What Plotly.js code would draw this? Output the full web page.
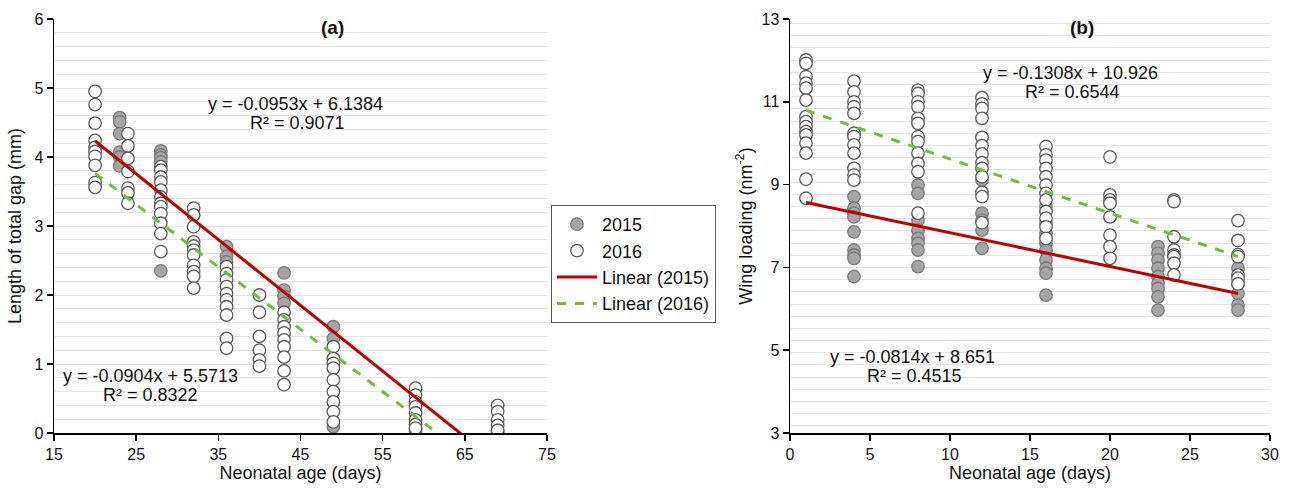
<!DOCTYPE html>
<html>
<head>
<meta charset="utf-8">
<script src="https://cdn.plot.ly/plotly-3.0.1.min.js"></script>
<style>
  html, body { margin: 0; padding: 0; background: #ffffff; }
  #chart { width: 1295px; height: 492px; }
</style>
</head>
<body>
<div id="chart"></div>
<script>
// ---------- Panel (a): length of total gap vs neonatal age ----------
const gapAges2015 = [23, 28, 36, 43, 49, 59, 69];
const gapVals2015 = [
  [4.57, 4.51, 4.34, 4.07, 4.00, 3.87],
  [4.09, 4.03, 3.99, 3.93, 2.35],
  [2.70, 2.56, 2.48],
  [2.32, 2.07, 1.98, 1.88],
  [1.54, 1.37, 0.09],
  [0.07, 0.03],
  [0.02]
];
const gapAges2016 = [20, 24, 28, 32, 36, 40, 43, 49, 59, 69];
const gapVals2016 = [
  [4.95, 4.76, 4.49, 4.24, 4.14, 4.08, 4.01, 3.88, 3.63, 3.56],
  [4.34, 4.16, 3.98, 3.79, 3.55, 3.48, 3.33],
  [3.86, 3.81, 3.71, 3.64, 3.52, 3.42, 3.33, 3.28, 3.18, 3.04, 2.89, 2.63],
  [3.26, 3.16, 2.99, 2.77, 2.71, 2.65, 2.58, 2.43, 2.34, 2.27, 2.10],
  [2.41, 2.31, 2.22, 2.12, 2.02, 1.93, 1.83, 1.71, 1.37, 1.23],
  [2.00, 1.75, 1.40, 1.20, 1.06, 0.97],
  [1.75, 1.64, 1.54, 1.45, 1.35, 1.25, 1.10, 0.90, 0.70],
  [1.25, 1.08, 1.01, 0.94, 0.77, 0.60, 0.45, 0.31, 0.16],
  [0.65, 0.55, 0.45, 0.38, 0.29, 0.19, 0.12, 0.07],
  [0.40, 0.31, 0.19, 0.11, 0.04]
];
// trendlines [2015, 2016]
const gapSlope = [-0.0953, -0.0904];
const gapIntercept = [6.1384, 5.5713];
const gapR2 = [0.9071, 0.8322];
const gapFitX = [20, 69];

// ---------- Panel (b): wing loading vs neonatal age ----------
const wingAges2015 = [4, 8, 12, 16, 23, 28];
const wingVals2015 = [
  [8.71, 8.43, 8.31, 8.22, 7.86, 7.42, 7.30, 7.22, 6.78],
  [8.99, 8.79, 8.14, 7.90, 7.70, 7.58, 7.42, 7.02],
  [9.11, 8.31, 8.14, 7.90, 7.46],
  [8.47, 8.07, 7.82, 7.58, 7.42, 7.18, 6.98, 6.86, 6.33],
  [7.50, 7.34, 7.18, 6.98, 6.78, 6.62, 6.49, 6.29, 5.97],
  [6.98, 6.62, 6.37, 6.09, 5.97]
];
const wingAges2016 = [1, 4, 8, 12, 16, 20, 24, 28];
const wingVals2016 = [
  [12.01, 11.93, 11.61, 11.45, 11.33, 11.04, 10.64, 10.52, 10.40, 10.28, 10.20, 10.00, 9.76, 9.13, 8.67],
  [11.50, 11.24, 11.00, 10.88, 10.72, 10.24, 10.16, 9.96, 9.76, 9.39, 9.23, 9.11],
  [11.28, 11.20, 11.00, 10.88, 10.60, 10.48, 10.16, 10.04, 9.76, 9.51, 9.31, 8.31],
  [11.10, 10.95, 10.84, 10.60, 10.14, 9.94, 9.74, 9.53, 9.39, 9.19, 8.81, 8.71, 8.08],
  [9.92, 9.72, 9.59, 9.39, 9.19, 8.99, 8.79, 8.63, 8.35, 8.19, 7.98, 7.70],
  [9.67, 8.75, 8.63, 8.55, 8.22, 7.78, 7.50, 7.22],
  [8.63, 8.59, 7.74, 7.42, 7.30, 7.26, 7.10, 6.82],
  [8.13, 7.65, 7.31, 7.26, 6.82, 6.74, 6.60]
];
const wingSlope = [-0.0814, -0.1308];
const wingIntercept = [8.651, 10.926];
const wingR2 = [0.4515, 0.6544];
const wingFitX = [1, 28];

const seriesNames = ['2015', '2016', 'Linear (2015)', 'Linear (2016)'];

// ---------- helpers ----------
function flatten(ages, vals) {
  const x = [], y = [];
  ages.forEach((a, i) => vals[i].forEach(v => { x.push(a); y.push(v); }));
  return { x, y };
}
function fitLine(slope, intercept, xs) {
  return { x: xs.slice(), y: xs.map(v => slope * v + intercept) };
}
function eqText(slope, intercept) {
  return 'y = ' + slope + 'x + ' + intercept;
}

const FONT = 'Arial, "Liberation Sans", sans-serif';
const filledMarker = { symbol: 'circle', size: 12.5, color: '#a5a5a5', line: { color: '#7a7a7a', width: 1.3 } };
const openMarker = { symbol: 'circle', size: 12.5, color: '#ffffff', line: { color: '#595959', width: 1.3 } };
const redLine = { color: '#c00000', width: 3 };
const greenLine = { color: '#77b843', width: 3, dash: 'dash' };

const g15 = flatten(gapAges2015, gapVals2015);
const g16 = flatten(gapAges2016, gapVals2016);
const w15 = flatten(wingAges2015, wingVals2015);
const w16 = flatten(wingAges2016, wingVals2016);
const gFit15 = fitLine(gapSlope[0], gapIntercept[0], gapFitX);
const gFit16 = fitLine(gapSlope[1], gapIntercept[1], gapFitX);
const wFit15 = fitLine(wingSlope[0], wingIntercept[0], wingFitX);
const wFit16 = fitLine(wingSlope[1], wingIntercept[1], wingFitX);

const traces = [
  { x: g15.x, y: g15.y, type: 'scatter', mode: 'markers', name: seriesNames[0], marker: filledMarker, xaxis: 'x', yaxis: 'y', legendrank: 1 },
  { x: g16.x, y: g16.y, type: 'scatter', mode: 'markers', name: seriesNames[1], marker: openMarker, xaxis: 'x', yaxis: 'y', legendrank: 2 },
  { x: gFit15.x, y: gFit15.y, type: 'scatter', mode: 'lines', name: seriesNames[2], line: redLine, xaxis: 'x', yaxis: 'y', legendrank: 3 },
  { x: gFit16.x, y: gFit16.y, type: 'scatter', mode: 'lines', name: seriesNames[3], line: greenLine, xaxis: 'x', yaxis: 'y', legendrank: 4 },
  { x: w15.x, y: w15.y, type: 'scatter', mode: 'markers', name: seriesNames[0], marker: filledMarker, xaxis: 'x2', yaxis: 'y2', showlegend: false },
  { x: w16.x, y: w16.y, type: 'scatter', mode: 'markers', name: seriesNames[1], marker: openMarker, xaxis: 'x2', yaxis: 'y2', showlegend: false },
  { x: wFit15.x, y: wFit15.y, type: 'scatter', mode: 'lines', name: seriesNames[2], line: redLine, xaxis: 'x2', yaxis: 'y2', showlegend: false },
  { x: wFit16.x, y: wFit16.y, type: 'scatter', mode: 'lines', name: seriesNames[3], line: greenLine, xaxis: 'x2', yaxis: 'y2', showlegend: false }
];

const W = 1295, H = 492;
const px = v => v / W;
const py = v => 1 - v / H;

const TXT = '#111111';
const axisBase = {
  showline: true, linecolor: '#000000', linewidth: 1.5,
  ticks: 'outside', ticklen: 6, tickwidth: 1.5, tickcolor: '#000000',
  tickfont: { family: FONT, size: 16, color: TXT },
  zeroline: false, fixedrange: true
};
const GRID = '#e4e4e4';
const titleFont = { family: FONT, size: 18, color: TXT };

function ann(text, x, y, opts) {
  return Object.assign({ text, xref: 'paper', yref: 'paper', x: px(x), y: py(y), showarrow: false,
    font: { family: FONT, size: 18, color: TXT }, xanchor: 'center', yanchor: 'middle' }, opts || {});
}

const layout = {
  width: W, height: H,
  margin: { l: 0, r: 0, t: 0, b: 0 },
  paper_bgcolor: '#ffffff', plot_bgcolor: '#ffffff',
  font: { family: FONT, color: TXT },
  showlegend: true,
  legend: {
    x: px(551), y: py(205), xanchor: 'left', yanchor: 'top',
    bordercolor: '#595959', borderwidth: 1, bgcolor: '#ffffff',
    font: { family: FONT, size: 18, color: TXT },
    tracegroupgap: 0, itemwidth: 40
  },
  xaxis: Object.assign({}, axisBase, {
    domain: [px(54), px(547)], anchor: 'y', range: [15, 75], dtick: 10, tick0: 15, showgrid: false,
    title: { text: 'Neonatal age (days)', font: titleFont, standoff: 4 }
  }),
  yaxis: Object.assign({}, axisBase, {
    domain: [py(433), py(19)], anchor: 'x', range: [0, 6], dtick: 1, showgrid: true, gridcolor: GRID, gridwidth: 1,
    minor: { dtick: 0.2, showgrid: true, gridcolor: GRID, gridwidth: 1, ticks: '' },
    title: { text: 'Length of total gap (mm)', font: titleFont, standoff: 8 }
  }),
  xaxis2: Object.assign({}, axisBase, {
    domain: [px(790), px(1270)], anchor: 'y2', range: [0, 30], dtick: 5, showgrid: false,
    title: { text: 'Neonatal age (days)', font: titleFont, standoff: 4 }
  }),
  yaxis2: Object.assign({}, axisBase, {
    domain: [py(433), py(19)], anchor: 'x2', range: [3, 13], dtick: 2, tick0: 3, showgrid: false,
    minor: { tick0: 3.17, dtick: 0.2946, showgrid: true, gridcolor: GRID, gridwidth: 1, ticks: '' },
    title: { text: 'Wing loading (nm<sup>-2</sup>)', font: titleFont, standoff: 4 }
  }),
  annotations: [
    ann('<b>(a)</b>', 333, 28, { font: { family: FONT, size: 19, color: TXT } }),
    ann('<b>(b)</b>', 1082, 28, { font: { family: FONT, size: 19, color: TXT } }),
    ann(eqText(gapSlope[0], gapIntercept[0]), 295, 104),
    ann('R² = ' + gapR2[0], 297, 123),
    ann(eqText(gapSlope[1], gapIntercept[1]), 150, 376),
    ann('R² = ' + gapR2[1], 150, 395),
    ann(eqText(wingSlope[1], wingIntercept[1]), 1070, 73),
    ann('R² = ' + wingR2[1], 1072, 92),
    ann(eqText(wingSlope[0], wingIntercept[0]), 912, 357),
    ann('R² = ' + wingR2[0], 914, 376)
  ]
};

Plotly.newPlot('chart', traces, layout, { staticPlot: true, displayModeBar: false });
</script>
</body>
</html>
